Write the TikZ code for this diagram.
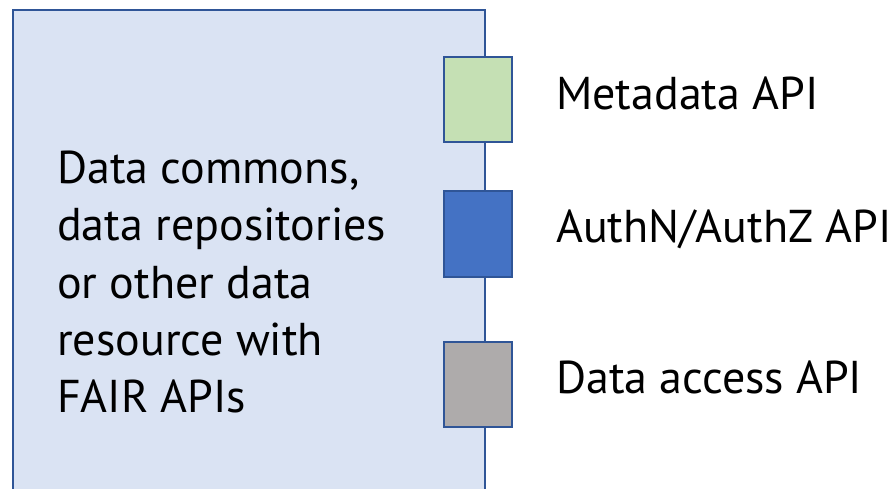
\documentclass[tikz,border=0pt]{standalone}
\usepackage{fontspec}
\setmainfont{PT Sans}
\definecolor{boxfill}{HTML}{DAE3F3}
\definecolor{boxline}{HTML}{2F5597}
\definecolor{metagreen}{HTML}{C5E0B4}
\definecolor{authblue}{HTML}{4472C4}
\definecolor{accessgray}{HTML}{AEABAB}
\tikzset{
  port/.style={draw=boxline, line width=2pt, minimum width=68pt, minimum height=85pt, inner sep=0pt},
  lbl/.style={anchor=base west, inner sep=0pt, font=\fontsize{46}{57.3}\selectfont}
}
\begin{document}
\begin{tikzpicture}[x=1pt,y=-1pt]
\useasboundingbox (0,0) rectangle (894,489);
\clip (0,0) rectangle (894,489);
\node[draw=boxline, fill=boxfill, line width=2pt, minimum width=472pt, minimum height=495pt, anchor=north west, inner sep=0pt] (main) at (12,9) {};
\node[lbl, align=left, anchor=west] (txt) at (57,282) {Data commons,\\data repositories\\or other data\\resource with\\FAIR APIs};
\node[port, fill=metagreen] (meta) at (477.5,100) {};
\node[port, fill=authblue] (auth) at (477.5,234) {};
\node[port, fill=accessgray] (acc) at (477.5,384) {};
\node[lbl] (lmeta) at (556,110) {Metadata API};
\node[lbl] (lauth) at (556,242) {AuthN/AuthZ API};
\node[lbl] (lacc) at (556,393) {Data access API};
\end{tikzpicture}
\end{document}
